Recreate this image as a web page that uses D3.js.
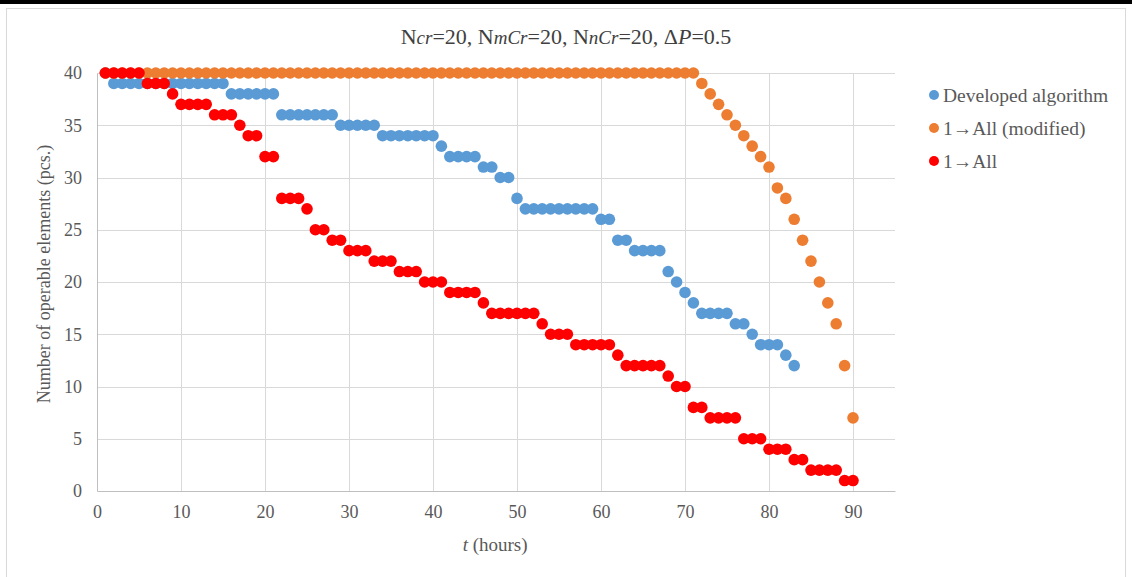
<!DOCTYPE html>
<html>
<head>
<meta charset="utf-8">
<script src="https://cdn.jsdelivr.net/npm/d3@7"></script>
<style>
  body { margin: 0; background: #fff; }
  svg text { font-family: "Liberation Serif", "DejaVu Serif", serif; }
</style>
</head>
<body>
<div id="chart"></div>
<script>
// Hours on the x axis (one point per hour)
var hours = [1,2,3,4,5,6,7,8,9,10,11,12,13,14,15,16,17,18,19,20,21,22,23,24,25,26,27,28,29,30,
  31,32,33,34,35,36,37,38,39,40,41,42,43,44,45,46,47,48,49,50,51,52,53,54,55,56,57,58,59,60,
  61,62,63,64,65,66,67,68,69,70,71,72,73,74,75,76,77,78,79,80,81,82,83,84,85,86,87,88,89,90];

// Developed algorithm (hours 1..83)
var developed = [40,39,39,39,39,39,39,39,39,39,39,39,39,39,39,38,38,38,38,38,38,36,36,36,36,36,36,36,35,35,
  35,35,35,34,34,34,34,34,34,34,33,32,32,32,32,31,31,30,30,28,27,27,27,27,27,27,27,27,27,26,
  26,24,24,23,23,23,23,21,20,19,18,17,17,17,17,16,16,15,14,14,14,13,12];

// 1→All (modified) (hours 1..90)
var modified = [40,40,40,40,40,40,40,40,40,40,40,40,40,40,40,40,40,40,40,40,40,40,40,40,40,40,40,40,40,40,
  40,40,40,40,40,40,40,40,40,40,40,40,40,40,40,40,40,40,40,40,40,40,40,40,40,40,40,40,40,40,
  40,40,40,40,40,40,40,40,40,40,40,39,38,37,36,35,34,33,32,31,29,28,26,24,22,20,18,16,12,7];

// 1→All (hours 1..90)
var oneToAll = [40,40,40,40,40,39,39,39,38,37,37,37,37,36,36,36,35,34,34,32,32,28,28,28,27,25,25,24,24,23,
  23,23,22,22,22,21,21,21,20,20,20,19,19,19,19,18,17,17,17,17,17,17,16,15,15,15,14,14,14,14,
  14,13,12,12,12,12,12,11,10,10,8,8,7,7,7,7,5,5,5,4,4,4,3,3,2,2,2,2,1,1];

var seriesNames = ["Developed algorithm", "1\u2192All (modified)", "1\u2192All"];
var seriesColors = ["#5b9bd5", "#ed7d31", "#ff0000"];
var xTicks = [0,10,20,30,40,50,60,70,80,90];
var yTicks = [0,5,10,15,20,25,30,35,40];

var W = 1132, H = 577;
var serif = "'Liberation Serif', 'Times New Roman', serif";
var margin = { top: 73, right: 237, bottom: 86, left: 97 },
    width = W - margin.left - margin.right,
    height = H - margin.top - margin.bottom;

var svg = d3.select("#chart")
  .append("svg")
    .attr("width", W)
    .attr("height", H);

// frame around the chart
svg.append("rect")
  .attr("x", 0).attr("y", 0).attr("width", W).attr("height", 4)
  .attr("fill", "#000");
svg.append("rect")
  .attr("x", 6.5).attr("y", 8.5).attr("width", W - 13).attr("height", H - 8)
  .attr("fill", "none").attr("stroke", "#d9d9d9");

var g = svg.append("g")
  .attr("transform", "translate(" + margin.left + "," + margin.top + ")");

var x = d3.scaleLinear().domain([0, 95]).range([0, width]);
var y = d3.scaleLinear().domain([0, 40]).range([height, 0]);

// gridlines
g.append("g").selectAll("line")
  .data(yTicks.slice(1))
  .enter().append("line")
    .attr("x1", 0).attr("x2", width)
    .attr("y1", d => Math.round(y(d)) + 0.5).attr("y2", d => Math.round(y(d)) + 0.5)
    .attr("stroke", "#d9d9d9");
g.append("g").selectAll("line")
  .data(xTicks.slice(1))
  .enter().append("line")
    .attr("y1", 0).attr("y2", height)
    .attr("x1", d => Math.round(x(d)) + 0.5).attr("x2", d => Math.round(x(d)) + 0.5)
    .attr("stroke", "#d9d9d9");

// axes
var xAxis = g.append("g")
  .attr("transform", "translate(0," + height + ")")
  .call(d3.axisBottom(x).tickValues(xTicks).tickSize(0).tickPadding(14));
var yAxis = g.append("g")
  .call(d3.axisLeft(y).tickValues(yTicks).tickSize(0).tickPadding(15));
[xAxis, yAxis].forEach(function (a) {
  a.attr("font-family", serif);
  a.select(".domain").attr("stroke", "#bfbfbf");
  a.selectAll("text").attr("font-size", "18px").attr("fill", "#595959")
    .style("font-family", serif);
});

// points, drawn in series order (red on top)
var seriesData = [developed, modified, oneToAll];
seriesData.forEach(function (vals, i) {
  g.append("g").selectAll("circle")
    .data(vals)
    .enter().append("circle")
      .attr("cx", (d, j) => x(hours[j]))
      .attr("cy", d => y(d))
      .attr("r", 5.8)
      .attr("fill", seriesColors[i]);
});

// title
var title = svg.append("text")
  .attr("x", 566).attr("y", 44)
  .attr("text-anchor", "middle")
  .attr("font-size", "22px")
  .attr("fill", "#404040");
var parts = [["N", 0], ["cr", 1], ["=20, N", 0], ["mCr", 1], ["=20, N", 0],
  ["nCr", 1], ["=20, \u0394", 0], ["P", 2], ["=0.5", 0]];
parts.forEach(function (p) {
  var t = title.append("tspan").text(p[0]);
  if (p[1] === 1) {
    t.attr("font-style", "italic").attr("font-size", "19px");
  } else if (p[1] === 2) {
    t.attr("font-style", "italic");
  }
});

// axis titles
svg.append("text")
  .attr("transform", "translate(50,274) rotate(-90)")
  .attr("text-anchor", "middle")
  .attr("font-size", "18px")
  .attr("fill", "#595959")
  .text("Number of operable elements (pcs.)");

var xl = svg.append("text")
  .attr("x", margin.left + x(47.4)).attr("y", 551)
  .attr("text-anchor", "middle")
  .attr("font-size", "19px")
  .attr("fill", "#595959");
xl.append("tspan").attr("font-style", "italic").text("t");
xl.append("tspan").text(" (hours)");

// legend
var legend = svg.append("g");
seriesNames.forEach(function (name, i) {
  var ly = 95 + i * 33;
  legend.append("circle")
    .attr("cx", 934).attr("cy", ly).attr("r", 5)
    .attr("fill", seriesColors[i]);
  legend.append("text")
    .attr("x", 943).attr("y", ly)
    .attr("dy", "0.35em")
    .attr("font-size", "19.5px")
    .attr("fill", "#595959")
    .text(name);
});
</script>
</body>
</html>
